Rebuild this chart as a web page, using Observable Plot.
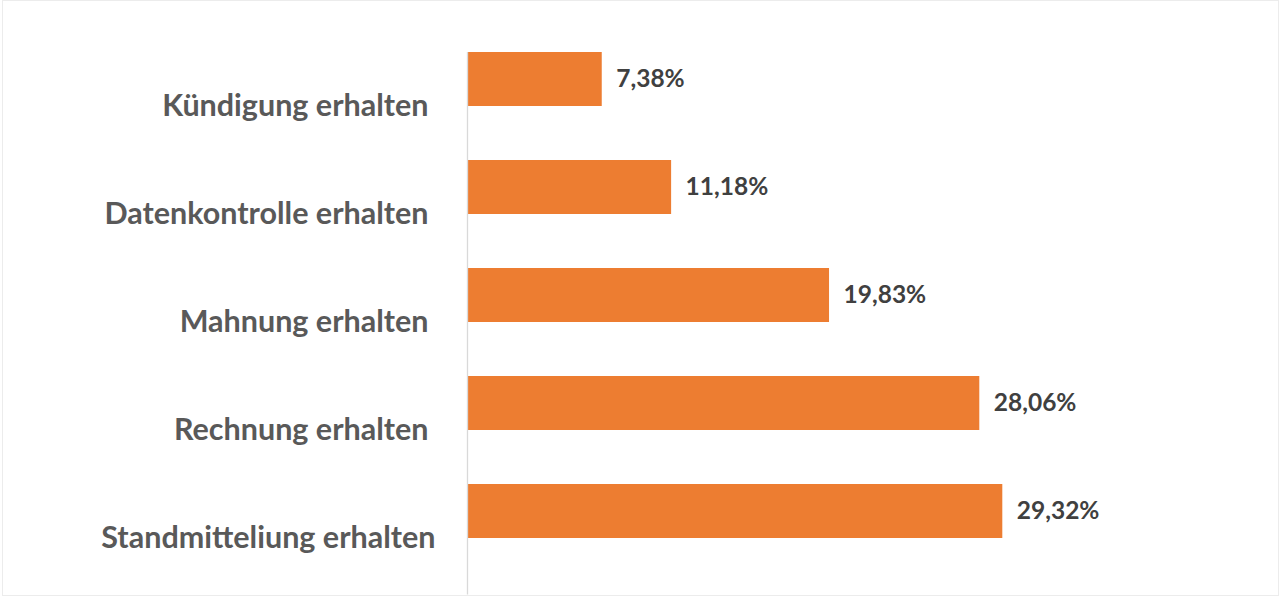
<!DOCTYPE html>
<html>
<head>
<meta charset="utf-8">
<script src="https://cdn.jsdelivr.net/npm/d3@7"></script>
<script src="https://cdn.jsdelivr.net/npm/@observablehq/plot@0.6"></script>
<style>
  html, body { margin: 0; padding: 0; background: #fff; }
  #wrap { position: relative; width: 1280px; height: 598px; overflow: hidden; }
  #frame { position: absolute; left: 2px; top: 0; width: 1275px; height: 594px; border: 1px solid #ececec; pointer-events: none; }
</style>
</head>
<body>
<div id="wrap"><div id="chart"></div><div id="frame"></div></div>
<script>
const categories = [
  "Kündigung erhalten",
  "Datenkontrolle erhalten",
  "Mahnung erhalten",
  "Rechnung erhalten",
  "Standmitteliung erhalten"
];
const values = [7.38, 11.18, 19.83, 28.06, 29.32];

const data = categories.map((c, i) => ({category: c, value: values[i]}));
const fmt = v => v.toFixed(2).replace(".", ",") + "%";

const labelStyle = {
  tickSize: 0,
  tickPadding: 39,
  dy: 27,
  fontSize: 30.5,
  fontWeight: "bold",
  fill: "#595959",
  label: null
};

const chart = Plot.plot({
  width: 1280,
  height: 598,
  marginLeft: 467,
  marginRight: 174,
  marginTop: 52,
  marginBottom: 3.5,
  style: {fontFamily: "Lato, 'Noto Sans', sans-serif", background: "#fff"},
  x: {domain: [0, 35], axis: null},
  y: {domain: categories, paddingInner: 0.5, paddingOuter: 0.25, align: 0, label: null, axis: null},
  marks: [
    Plot.barX(data, {x: "value", y: "category", fill: "#ED7D31"}),
    Plot.ruleX([0], {stroke: "#d9d9d9", strokeWidth: 1.3}),
    Plot.axisY({...labelStyle, ticks: categories.slice(0, 4)}),
    Plot.axisY({...labelStyle, ticks: categories.slice(4), dx: 7}),
    Plot.text(data, {
      x: "value",
      y: "category",
      text: d => fmt(d.value),
      textAnchor: "start",
      dx: 14,
      fontSize: 24.5,
      fontWeight: "bold",
      fill: "#404040"
    })
  ]
});
document.getElementById("chart").appendChild(chart);
</script>
</body>
</html>
